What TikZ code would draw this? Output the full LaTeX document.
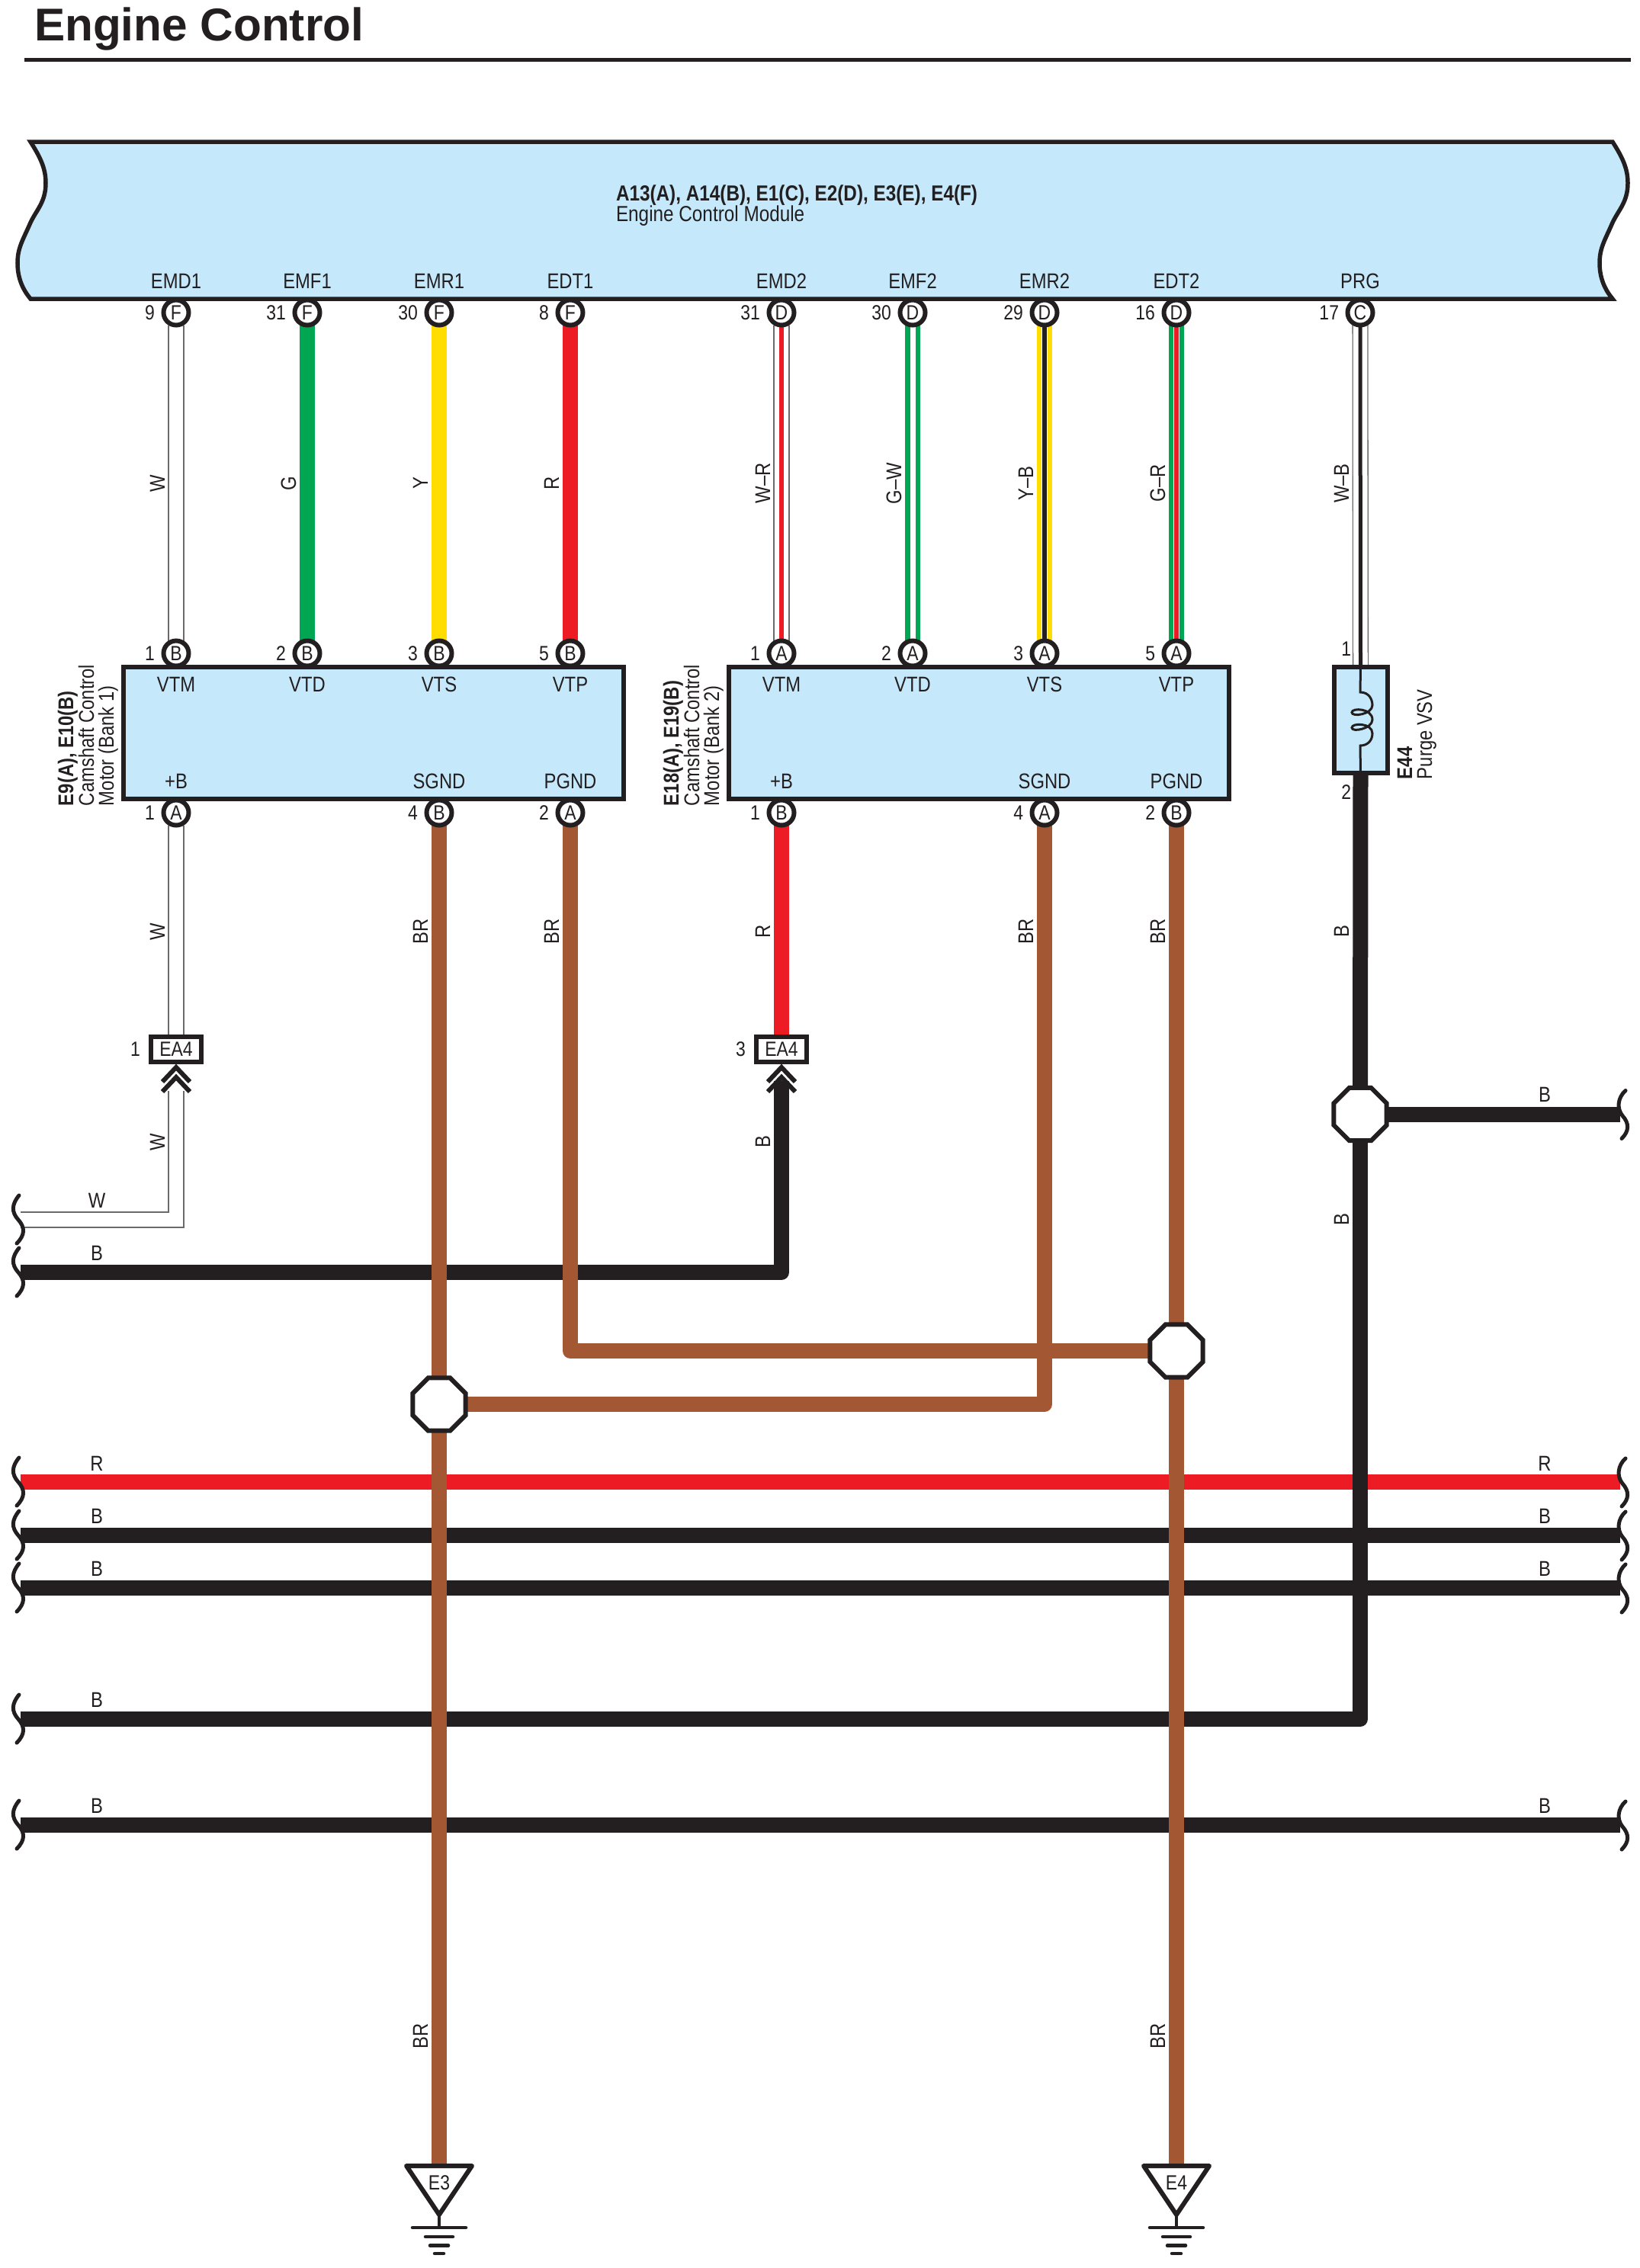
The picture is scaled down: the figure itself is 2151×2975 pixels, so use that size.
\documentclass[tikz,border=0pt]{standalone}
\usepackage{fontspec}
\usetikzlibrary{shapes.geometric}
\setmainfont{Liberation Sans}[FakeStretch=0.85]
\newfontfamily\titlefont{Liberation Sans}
\definecolor{ink}{HTML}{231F20}
\definecolor{modblue}{HTML}{C5E8FB}
\definecolor{wred}{HTML}{ED1C24}
\definecolor{wgreen}{HTML}{00A651}
\definecolor{wyellow}{HTML}{FFDD00}
\definecolor{wbrown}{HTML}{A45733}
\definecolor{wgray}{HTML}{6A6A6A}
\pgfdeclarelayer{wires}
\pgfsetlayers{wires,main}
\newcommand\fsa{\fontsize{28}{26}\selectfont}
\newcommand\fsb{\fontsize{27}{26}\selectfont}
\tikzset{
  every node/.style={font=\fsa,text=ink,inner sep=0pt,outer sep=0pt},
  pinnode/.style={circle,draw=ink,fill=white,line width=6pt,minimum size=33pt,font=\fsb},
  pinnum/.style={font=\fsb,anchor=east},
  boxnode/.style={rectangle,draw=ink,fill=modblue,line width=6pt},
  eabox/.style={rectangle,draw=ink,fill=white,line width=6pt,minimum width=66pt,minimum height=33pt,font=\fsb},
  splice/.style={regular polygon,regular polygon sides=8,draw=ink,fill=white,line width=6pt,minimum size=75pt},
  wlabel/.style={rotate=90,anchor=base},
  hlabel/.style={anchor=base},
  sig/.style={anchor=base},
  side/.style={rotate=90,anchor=south west,align=left},
  wire/.style={line width=20pt,line join=round},
  blk/.style={wire,draw=ink},
  brn/.style={wire,draw=wbrown},
  redw/.style={wire,draw=wred},
  whitew/.style={draw=wgray,line width=1.3pt,double=white,double distance=18.5pt,line join=miter},
  squig/.style={draw=ink,line width=5pt,line cap=round},
  chev/.style={draw=ink,line width=6pt,line cap=butt,line join=miter},
}
% name, x, y, letter, number
\newcommand\pinat[5]{%
  \node[pinnode] (#1) at (#2,#3) {#4};
  \node[pinnum] (#1n) at (#2-28,#3) {#5};}
\newcommand\lsq[1]{\draw[squig] (25,#1-32) .. controls (15,#1-20) and (15,#1-10) .. (24,#1) .. controls (33,#1+10) and (33,#1+20) .. (22,#1+31);}
\newcommand\rsq[1]{\draw[squig] (2132,#1-31) .. controls (2122,#1-22) and (2120,#1-8) .. (2128,#1+2) .. controls (2137,#1+12) and (2137,#1+22) .. (2127,#1+32);}
\newcommand\stripe[5]{%
  \draw[line width=20pt,draw=#3] (#1) -- (#2);
  \draw[line width=#5pt+1.5pt,draw=white] (#1) -- (#2);
  \draw[line width=#5pt,draw=#4] (#1) -- (#2);}
\newcommand\wstripe[4]{%
  \draw[whitew] (#1) -- (#2);
  \draw[line width=#4pt,draw=#3] (#1) -- (#2);}
\newcommand\gnd[3]{%
  \coordinate (#1top) at (#2,2841);
  \draw[draw=ink,fill=white,line width=6pt,line join=round] (#2-43,2841) -- (#2+43,2841) -- (#2,2905) -- cycle;
  \node[font=\fsb] (#1) at (#2,2863) {#3};
  \draw[draw=ink,line width=4.5pt] (#2,2905) -- (#2,2922);
  \draw[draw=ink,line width=4.5pt,line cap=round] (#2-35,2922) -- (#2+35,2922);
  \draw[draw=ink,line width=4.5pt,line cap=round] (#2-18,2934) -- (#2+18,2934);
  \draw[draw=ink,line width=4.5pt,line cap=round] (#2-12,2945.5) -- (#2+12,2945.5);
  \draw[draw=ink,line width=4.5pt,line cap=round] (#2-6,2956) -- (#2+6,2956);}
\begin{document}
\begin{tikzpicture}[x=1pt,y=-1pt]
\useasboundingbox (0,0) rectangle (2151,2975);
\begin{pgfonlayer}{wires}
\fill[white] (0,0) rectangle (2151,2975);
\end{pgfonlayer}
% title
\node[anchor=base west,font={\titlefont\bfseries\fontsize{60.3}{60}\selectfont}] (title) at (45,53) {Engine Control};
\coordinate (ruleL) at (32,78);
\coordinate (ruleR) at (2139,78);
\draw[draw=ink,line width=5pt] (ruleL) -- (ruleR);
% ECM body
\draw[draw=ink,fill=modblue,line width=5.5pt,line join=miter]
  (40,186) -- (2115,186)
  .. controls (2127,205) and (2135,220) .. (2135,240)
  .. controls (2135,265) and (2123,275) .. (2115,292)
  .. controls (2105,315) and (2098,325) .. (2098,345)
  .. controls (2098,365) and (2105,380) .. (2115,392)
  -- (40,392)
  .. controls (30,380) and (23,365) .. (23,345)
  .. controls (23,325) and (30,315) .. (40,292)
  .. controls (48,275) and (60,265) .. (60,240)
  .. controls (60,220) and (52,205) .. (40,186) -- cycle;
\node[anchor=base west,font={\fontsize{28.6}{26}\selectfont\bfseries}] (ecmA) at (808,263) {A13(A), A14(B), E1(C), E2(D), E3(E), E4(F)};
\node[anchor=base west,font={\fontsize{28.6}{26}\selectfont}] (ecmB) at (808,290) {Engine Control Module};
% motor boxes
\node[boxnode,minimum width=656pt,minimum height=173pt] (boxA) at (490,961.5) {};
\node[boxnode,minimum width=656pt,minimum height=173pt] (boxB) at (1284,961.5) {};
\node[boxnode,minimum width=70pt,minimum height=139pt] (vsv) at (1784.5,944.5) {};
% ECM pins
\pinat{e1}{231}{410}{F}{9}
\pinat{e2}{403}{410}{F}{31}
\pinat{e3}{576}{410}{F}{30}
\pinat{e4}{748}{410}{F}{8}
\pinat{e5}{1025}{410}{D}{31}
\pinat{e6}{1197}{410}{D}{30}
\pinat{e7}{1370}{410}{D}{29}
\pinat{e8}{1543}{410}{D}{16}
\pinat{e9}{1784}{410}{C}{17}
\foreach \n/\x/\t in {l1/231/EMD1,l2/403/EMF1,l3/576/EMR1,l4/748/EDT1,l5/1025/EMD2,l6/1197/EMF2,l7/1370/EMR2,l8/1543/EDT2,l9/1784/PRG}
  \node[sig] (\n) at (\x,378) {\t};
% motor pins
\pinat{a1}{231}{857}{B}{1}
\pinat{a2}{403}{857}{B}{2}
\pinat{a3}{576}{857}{B}{3}
\pinat{a4}{748}{857}{B}{5}
\pinat{b1}{1025}{857}{A}{1}
\pinat{b2}{1197}{857}{A}{2}
\pinat{b3}{1370}{857}{A}{3}
\pinat{b4}{1543}{857}{A}{5}
\pinat{c1}{231}{1066}{A}{1}
\pinat{c3}{576}{1066}{B}{4}
\pinat{c4}{748}{1066}{A}{2}
\pinat{d1}{1025}{1066}{B}{1}
\pinat{d3}{1370}{1066}{A}{4}
\pinat{d4}{1543}{1066}{B}{2}
\foreach \n/\x/\t in {ta1/231/VTM,ta2/403/VTD,ta3/576/VTS,ta4/748/VTP,tb1/1025/VTM,tb2/1197/VTD,tb3/1370/VTS,tb4/1543/VTP}
  \node[sig] (\n) at (\x,907) {\t};
\foreach \n/\x/\t in {ua1/231/+B,ua3/576/SGND,ua4/748/PGND,ub1/1025/+B,ub3/1370/SGND,ub4/1543/PGND}
  \node[sig] (\n) at (\x,1034) {\t};
% side labels
\node[side] (sideA) at (155,1057) {\textbf{E9(A), E10(B)}\\Camshaft Control\\Motor (Bank 1)};
\node[side] (sideB) at (949,1057) {\textbf{E18(A), E19(B)}\\Camshaft Control\\Motor (Bank 2)};
\node[side] (sideC) at (1884,1022) {\textbf{E44}\\Purge VSV};
\node[pinnum] (vsv1) at (1772,851) {1};
\node[pinnum] (vsv2) at (1772,1039) {2};
% coil
\draw[draw=ink,line width=3pt] (vsv.north) -- (1784,908)
  .. controls (1796,908) and (1800,918) .. (1800,925)
  .. controls (1800,937) and (1773,941) .. (1773,934.5)
  .. controls (1773,928) and (1800,929) .. (1800,944)
  .. controls (1800,956) and (1773,961) .. (1773,954.5)
  .. controls (1773,948) and (1800,948) .. (1800,962)
  .. controls (1800,972) and (1793,978) .. (1784,978) -- (vsv.south);
% EA4 connectors
\node[eabox] (ea1) at (231,1376) {EA4};
\node[eabox] (ea2) at (1025,1376) {EA4};
\node[pinnum] (ea1n) at (184,1376) {1};
\node[pinnum] (ea2n) at (978,1376) {3};
\foreach \x in {231,1025}{
  \draw[chev] (\x-18,1419) -- (\x,1400) -- (\x+18,1419);
  \draw[chev] (\x-18,1432) -- (\x,1413) -- (\x+18,1432);
}
\coordinate (ch1) at (231,1431);
\coordinate (ch2) at (1025,1418);
% splices
\node[splice] (s1) at (576,1842) {};
\node[splice] (s2) at (1543,1772) {};
\node[splice] (s3) at (1784,1461.5) {};
% grounds
\gnd{g1}{576}{E3}
\gnd{g2}{1543}{E4}
% free ends
\coordinate (wL) at (27,1600);
\coordinate (k0) at (27,1669);
\coordinate (rL) at (27,1944);
\coordinate (rR) at (2125,1944);
\coordinate (b1L) at (27,2014);
\coordinate (b1R) at (2125,2014);
\coordinate (b2L) at (27,2083);
\coordinate (b2R) at (2125,2083);
\coordinate (b3L) at (27,2255);
\coordinate (b4L) at (27,2394);
\coordinate (b4R) at (2125,2394);
\coordinate (s3R) at (2125,1461.5);
% wires
\begin{pgfonlayer}{wires}
\draw[redw] (rL) -- (rR);
\draw[blk] (b1L) -- (b1R);
\draw[blk] (b2L) -- (b2R);
\draw[blk] (b4L) -- (b4R);
\draw[blk] (k0) -- (1025,1669) -- (ch2);
\draw[blk] (s3) -- (s3R);
\draw[blk] (vsv.south) -- (s3);
\draw[blk] (s3) -- (1784,2255) -- (b3L);
\draw[whitew] (e1) -- (a1);
\draw[wire,draw=wgreen] (e2) -- (a2);
\draw[wire,draw=wyellow] (e3) -- (a3);
\draw[wire,draw=wred] (e4) -- (a4);
\wstripe{e5}{b1}{wred}{6}
\draw[wire,draw=wgreen] (e6) -- (b2);
\draw[line width=7pt,draw=white] (e6) -- (b2);
\stripe{e7}{b3}{wyellow}{ink}{6.5}
\stripe{e8}{b4}{wgreen}{wred}{6.5}
\wstripe{e9}{vsv.north}{ink}{5}
\draw[whitew] (c1) -- (ea1);
\draw[wire,draw=wred] (d1) -- (ea2);
\draw[whitew] (ch1) -- (231,1600) -- (wL);
\draw[brn] (c3) -- (g1top);
\draw[brn] (d4) -- (g2top);
\draw[brn] (c4) -- (748,1772) -- (s2);
\draw[brn] (d3) -- (1370,1842) -- (s1);
\end{pgfonlayer}
% break marks
\lsq{1600}\lsq{1669}\lsq{1944}\lsq{2014}\lsq{2083}\lsq{2255}\lsq{2394}
\rsq{1461.5}\rsq{1944}\rsq{2014}\rsq{2083}\rsq{2394}
% wire colour labels, vertical
\foreach \n/\x/\y/\t in {
  v1/216/634/W,v2/388/634/G,v3/561/634/Y,v4/733/634/R,
  v5/1010/634/W–R,v6/1182/634/G–W,v7/1355/634/Y–B,v8/1528/634/G–R,v9/1769/634/W–B,
  v10/216/1222/W,v11/561/1222/BR,v12/733/1222/BR,v13/1010/1222/R,v14/1355/1222/BR,v15/1528/1222/BR,v16/1769/1222/B,
  v17/216/1498/W,v18/1010/1498/B,v19/1769/1600/B,v20/561/2671/BR,v21/1528/2671/BR}
  \node[wlabel] (\n) at (\x,\y) {\t};
% wire colour labels, horizontal
\foreach \n/\x/\y/\t in {
  h1/127/1584/W,h2/127/1653/B,h3/127/1929/R,h4/127/1998/B,h5/127/2067/B,h6/127/2239/B,h7/127/2378/B,
  h8/2026/1445/B,h9/2026/1929/R,h10/2026/1998/B,h11/2026/2067/B,h12/2026/2378/B}
  \node[hlabel] (\n) at (\x,\y) {\t};
\end{tikzpicture}
\end{document}
